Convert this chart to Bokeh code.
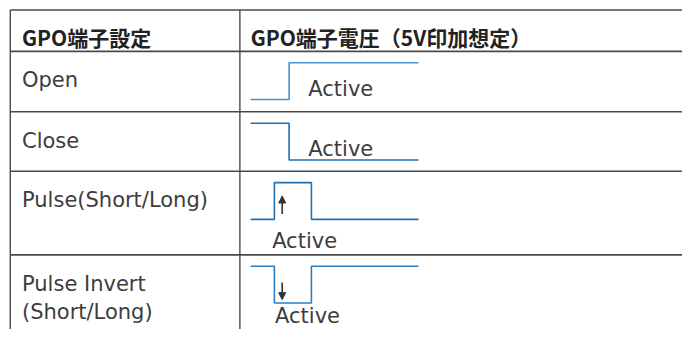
from bokeh.plotting import figure
from bokeh.models import Range1d, Arrow, NormalHead
from bokeh.core.properties import value
from bokeh.embed import file_html
from bokeh.resources import INLINE

# ---- data ----
headers = ["GPO端子設定", "GPO端子電圧（5V印加想定）"]
row_labels = [["Open"], ["Close"], ["Pulse(Short/Long)"], ["Pulse Invert", "(Short/Long)"]]
active_label = "Active"

# waveform breakpoints (time units) and levels (1 = high, 0 = low)
open_t = [0, 1.62, 7.07]
open_lv = [0, 1]
close_t = [0, 1.62, 7.07]
close_lv = [1, 0]
pulse_t = [0, 1.0, 2.56, 7.07]
pulse_lv = [0, 1, 0]
invert_t = [0, 1.0, 2.56, 7.07]
invert_lv = [1, 0, 1]
arrow_dir = [None, None, "up", "down"]

waves = [(open_t, open_lv), (close_t, close_lv), (pulse_t, pulse_lv), (invert_t, invert_lv)]
wave_colors = ["#4a93cc", "#1f6db2", "#2170b5", "#2d7cbf"]

# ---- layout: data space is the reference's 698x345 frame, drawn into 682x329 ----
W, H = 682, 329
p = figure(width=W, height=H, output_backend="svg", toolbar_location=None,
           x_range=Range1d(0, 698), y_range=Range1d(345, 0),
           min_border=0, outline_line_color=None)
p.axis.visible = False
p.grid.visible = False
p.background_fill_color = "white"
p.border_fill_color = "white"

left, divider = 10, 245
hlines = [10, 53.3, 116.7, 179, 266.7]
row_tops = hlines[1:]
line_col = "#4a4a4a"

p.segment(x0=[left] * len(hlines), y0=hlines, x1=[710] * len(hlines), y1=hlines,
          line_color=line_col, line_width=1.6)
p.segment(x0=[left, divider], y0=[10, 10], x1=[left, divider], y1=[360, 360],
          line_color=line_col, line_width=1.4)

# header
p.text(x=[22, 256], y=[38.5, 38.5], text=headers, text_font=value("Noto Sans CJK JP"),
       text_font_size="21px", text_font_style="bold", text_color="#222222",
       text_baseline="alphabetic")

# row labels
body_font = value("DejaVu Sans")
body_size = "21px"
lx, ly, lt = [], [], []
for top, lines in zip(row_tops, row_labels):
    for i, s in enumerate(lines):
        lx.append(22)
        ly.append(top + 30.5 + i * 29)
        lt.append(s)
p.text(x=lx, y=ly, text=lt, text_font=body_font, text_font_size=body_size,
       text_color="#3d3d3d", text_baseline="alphabetic")

# waveforms
wx0, tscale = 256, 24.3
for top, (ts, lv), col in zip(row_tops, waves, wave_colors):
    hi, lo = top + 12, top + 50.5
    xs, ys = [], []
    for i, level in enumerate(lv):
        y = hi if level else lo
        xs += [wx0 + ts[i] * tscale, wx0 + ts[i + 1] * tscale]
        ys += [y, y]
    p.line(xs, ys, line_color=col, line_width=1.6)

# Active labels
ax_, ay_ = [], []
for k, top in enumerate(row_tops):
    if arrow_dir[k] is None:
        ax_.append(315); ay_.append(top + 39.5)
    elif arrow_dir[k] == "up":
        ax_.append(278); ay_.append(top + 73.5)
    else:
        ax_.append(281); ay_.append(top + 64)
p.text(x=ax_, y=ay_, text=[active_label] * len(ax_), text_font=body_font,
       text_font_size=body_size, text_color="#3d3d3d", text_baseline="alphabetic")

# arrows
for k, top in enumerate(row_tops):
    if arrow_dir[k] == "up":
        ys, ye = top + 45, top + 26
    elif arrow_dir[k] == "down":
        ys, ye = top + 29, top + 47
    else:
        continue
    p.add_layout(Arrow(x_start=288.3, y_start=ys, x_end=288.3, y_end=ye,
                       line_color="#333333", line_width=1.6,
                       end=NormalHead(size=7, fill_color="#333333", line_color="#333333")))

open("out.html", "w").write(file_html(p, INLINE))
